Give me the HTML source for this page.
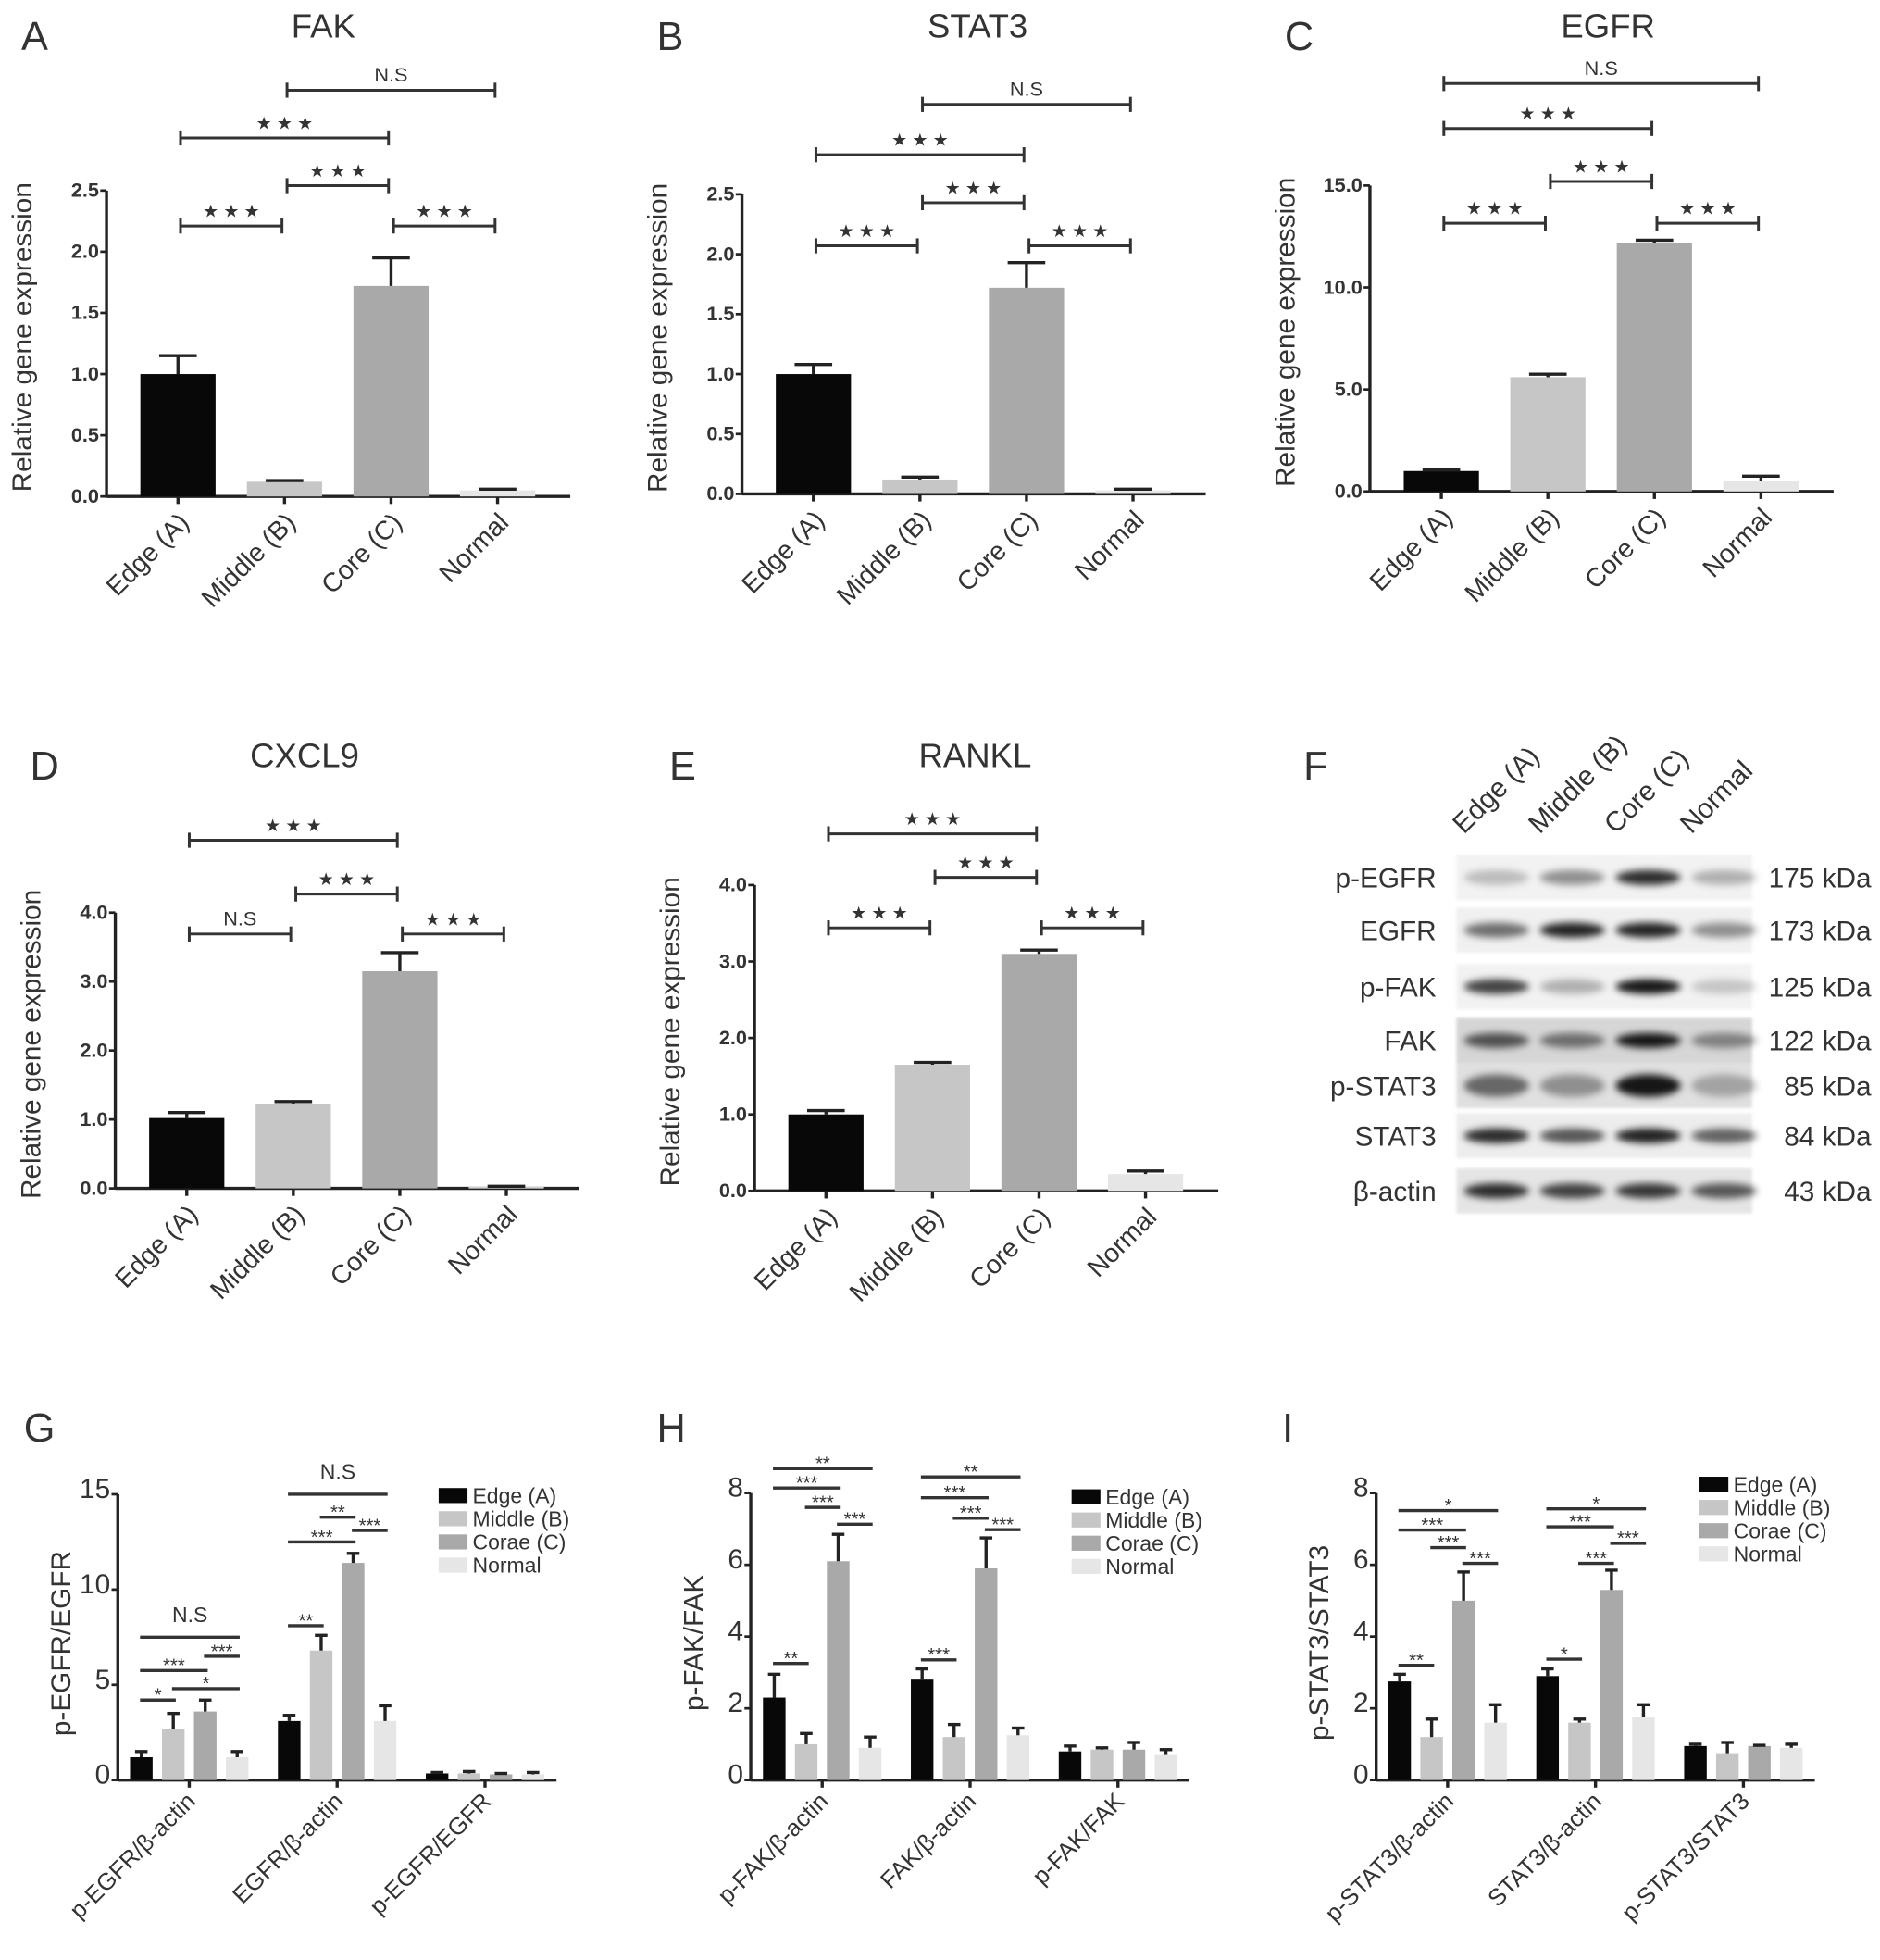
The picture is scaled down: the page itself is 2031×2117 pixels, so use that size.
<!DOCTYPE html>
<html><head><meta charset="utf-8"><style>
html,body{margin:0;padding:0;background:#fff}
svg{display:block}
text{font-family:"Liberation Sans",sans-serif;fill:#333}
</style></head><body>
<svg id="fig" xmlns="http://www.w3.org/2000/svg" width="2031" height="2117" viewBox="0 0 1500 1563.5">
<defs><filter id="blur" x="-50%" y="-100%" width="200%" height="300%"><feGaussianBlur stdDeviation="3"/></filter>
<filter id="blur2"><feGaussianBlur stdDeviation="1.2"/></filter></defs>
</svg>
<script>
const categories=["Edge (A)","Middle (B)","Core (C)","Normal"];
const groupLegend=["Edge (A)","Middle (B)","Corae (C)","Normal"];
const colors=["#080808","#c6c6c6","#a9a9a9","#e6e6e6"];

const fakValues=[1.0,0.12,1.72,0.05];
const fakErrors=[0.15,0.01,0.23,0.01];
const fakBrackets=[[1,3,3.32,"N.S"],[0,2,2.93,"* * *"],[1,2,2.54,"* * *"],[0,1,2.21,"* * *"],[2,3,2.21,"* * *"]];
const stat3Values=[1.0,0.12,1.72,0.03];
const stat3Errors=[0.08,0.02,0.21,0.01];
const stat3Brackets=[[1,3,3.25,"N.S"],[0,2,2.83,"* * *"],[1,2,2.43,"* * *"],[0,1,2.07,"* * *"],[2,3,2.07,"* * *"]];
const egfrValues=[1.0,5.6,12.2,0.5];
const egfrErrors=[0.05,0.15,0.12,0.25];
const egfrBrackets=[[0,3,20.0,"N.S"],[0,2,17.8,"* * *"],[1,2,15.2,"* * *"],[0,1,13.15,"* * *"],[2,3,13.15,"* * *"]];
const cxcl9Values=[1.02,1.23,3.15,0.02];
const cxcl9Errors=[0.08,0.03,0.27,0.01];
const cxcl9Brackets=[[0,2,5.05,"* * *"],[1,2,4.27,"* * *"],[0,1,3.69,"N.S"],[2,3,3.69,"* * *"]];
const ranklValues=[1.0,1.65,3.1,0.22];
const ranklErrors=[0.05,0.03,0.05,0.04];
const ranklBrackets=[[0,2,4.67,"* * *"],[1,2,4.1,"* * *"],[0,1,3.44,"* * *"],[2,3,3.44,"* * *"]];
const ticks25=[0,0.5,1.0,1.5,2.0,2.5];
const ticks15=[0,5,10,15];
const ticks4=[0,1,2,3,4];

const gGroups=["p-EGFR/β-actin","EGFR/β-actin","p-EGFR/EGFR"];
const gValues=[[1.2,2.7,3.6,1.2],[3.1,6.8,11.4,3.1],[0.35,0.35,0.3,0.3]];
const gErrors=[[0.3,0.8,0.6,0.3],[0.3,0.8,0.5,0.8],[0.05,0.1,0.05,0.1]];
const gBrackets=[[0,0,3,7.5,"N.S"],[0,2,3,6.5,"***"],[0,0,2,5.75,"***"],[0,1,3,4.8,"*"],[0,0,1,4.2,"*"],
 [1,0,3,15.0,"N.S"],[1,1,2,13.8,"**"],[1,2,3,13.1,"***"],[1,0,2,12.5,"***"],[1,0,1,8.1,"**"]];
const gTicks=[0,5,10,15];
const hGroups=["p-FAK/β-actin","FAK/β-actin","p-FAK/FAK"];
const hValues=[[2.3,1.0,6.1,0.9],[2.8,1.2,5.9,1.25],[0.8,0.85,0.85,0.7]];
const hErrors=[[0.65,0.3,0.75,0.3],[0.3,0.35,0.85,0.2],[0.15,0.05,0.2,0.15]];
const hBrackets=[[0,0,3,8.68,"**"],[0,0,2,8.14,"***"],[0,1,2,7.6,"***"],[0,2,3,7.13,"***"],[0,0,1,3.25,"**"],
 [1,0,3,8.45,"**"],[1,0,2,7.87,"***"],[1,1,2,7.3,"***"],[1,2,3,6.98,"***"],[1,0,1,3.35,"***"]];
const hTicks=[0,2,4,6,8];
const iGroups=["p-STAT3/β-actin","STAT3/β-actin","p-STAT3/STAT3"];
const iValues=[[2.75,1.2,5.0,1.6],[2.9,1.6,5.3,1.75],[0.95,0.75,0.95,0.9]];
const iErrors=[[0.2,0.5,0.8,0.5],[0.2,0.1,0.55,0.35],[0.05,0.3,0.02,0.1]];
const iBrackets=[[0,0,3,7.51,"*"],[0,0,2,6.97,"***"],[0,1,2,6.48,"***"],[0,2,3,6.04,"***"],[0,0,1,3.2,"**"],
 [1,0,3,7.56,"*"],[1,0,2,7.06,"***"],[1,2,3,6.6,"***"],[1,1,2,6.04,"***"],[1,0,1,3.37,"*"]];
const iTicks=[0,2,4,6,8];

const blotRows=["p-EGFR","EGFR","p-FAK","FAK","p-STAT3","STAT3","β-actin"];
const blotKda=["175 kDa","173 kDa","125 kDa","122 kDa","85 kDa","84 kDa","43 kDa"];
const blotIntensity=[[0.25,0.45,0.9,0.3],[0.6,0.95,0.95,0.45],[0.8,0.3,1,0.2],[0.7,0.55,1,0.45],[0.6,0.4,1,0.3],[0.9,0.7,0.95,0.65],[0.9,0.8,0.85,0.7]];
const blotBg=[0.05,0.06,0.05,0.16,0.12,0.07,0.1];

const svg=document.getElementById('fig');
const NS="http://www.w3.org/2000/svg";
function el(tag,attrs,parent,txt){const e=document.createElementNS(NS,tag);for(const k in attrs)e.setAttribute(k,attrs[k]);if(txt!==undefined)e.textContent=txt;(parent||svg).appendChild(e);return e;}
function grp(name,parent){const g=el('g',{},parent);return g;}

function single(cfg){
  const g=grp(cfg.name+'-panel');
  const yS=v=>cfg.y0-(v/cfg.yMax)*(cfg.y0-cfg.yTop);
  const xS=i=>cfg.x0+57+i*85;
  const L=el('text',{x:cfg.x0-68,y:cfg.letterY,'font-size':32},g,cfg.letter);
  
  const T=el('text',{x:cfg.titleX,y:cfg.letterY-10,'font-size':27,'text-anchor':'middle'},g,cfg.title);
  
  const ax=grp('axes',g);
  el('line',{x1:cfg.x0,y1:cfg.y0,x2:cfg.x0+370,y2:cfg.y0,stroke:'#222','stroke-width':2.5},ax);
  el('line',{x1:cfg.x0,y1:cfg.y0,x2:cfg.x0,y2:yS(cfg.ticks[cfg.ticks.length-1]),stroke:'#222','stroke-width':2.5},ax);
  cfg.ticks.forEach(t=>{const y=yS(t);el('line',{x1:cfg.x0-5,y1:y,x2:cfg.x0,y2:y,stroke:'#222','stroke-width':2},ax);
    const tl=el('text',{x:cfg.x0-6,y:y+5,'font-size':16,'text-anchor':'end','font-weight':'bold',fill:'#555'},ax,t.toFixed(1));
    });
  const yl=el('text',{x:0,y:0,'font-size':22,'text-anchor':'middle',transform:`translate(${cfg.x0-60},${(cfg.y0+yS(cfg.ticks[cfg.ticks.length-1]))/2-5}) rotate(-90)`},ax,'Relative gene expression');
  
  cfg.values.forEach((v,i)=>{const cx=xS(i);
    const r=el('rect',{x:cx-30,y:yS(v),width:60,height:cfg.y0-yS(v),fill:colors[i]},g);
    
    const e=yS(v+cfg.errors[i]);
    el('line',{x1:cx,y1:yS(v),x2:cx,y2:e,stroke:'#222','stroke-width':2.5},g);
    el('line',{x1:cx-15,y1:e,x2:cx+15,y2:e,stroke:'#222','stroke-width':2.5},g);
    el('line',{x1:cx,y1:cfg.y0,x2:cx,y2:cfg.y0+6,stroke:'#222','stroke-width':2.5},ax);
    const xl=el('text',{x:0,y:0,'font-size':21,'text-anchor':'end',transform:`translate(${cx+10},${cfg.y0+22}) rotate(-45)`},ax,categories[i]);
    });
  cfg.brackets.forEach(b=>{const bg=grp('significance-bracket',g);const y=yS(b[2]);const x1=xS(b[0])+2,x2=xS(b[1])-2;
    el('line',{x1:x1,y1:y,x2:x2,y2:y,stroke:'#333','stroke-width':2.2},bg);
    el('line',{x1:x1,y1:y-6,x2:x1,y2:y+6,stroke:'#333','stroke-width':2.2},bg);
    el('line',{x1:x2,y1:y-6,x2:x2,y2:y+6,stroke:'#333','stroke-width':2.2},bg);
    const ns=b[3]==='N.S';
    el('text',{x:(x1+x2)/2,y:y-7,'font-size':ns?16:14,'text-anchor':'middle',fill:'#444'},bg,ns?b[3]:'★ ★ ★');
  });
}
single({name:'fak',letter:'A',title:'FAK',titleX:258,letterY:40,x0:85,y0:396,yTop:152,yMax:2.5,ticks:ticks25,values:fakValues,errors:fakErrors,brackets:fakBrackets});
single({name:'stat3',letter:'B',title:'STAT3',titleX:780,letterY:40,x0:592,y0:394,yTop:155,yMax:2.5,ticks:ticks25,values:stat3Values,errors:stat3Errors,brackets:stat3Brackets});
single({name:'egfr',letter:'C',title:'EGFR',titleX:1283,letterY:40,x0:1093,y0:392,yTop:148,yMax:15,ticks:ticks15,values:egfrValues,errors:egfrErrors,brackets:egfrBrackets});
single({name:'cxcl9',letter:'D',title:'CXCL9',titleX:243,letterY:622,x0:92,y0:948,yTop:728,yMax:4,ticks:ticks4,values:cxcl9Values,errors:cxcl9Errors,brackets:cxcl9Brackets});
single({name:'rankl',letter:'E',title:'RANKL',titleX:778,letterY:622,x0:602,y0:950,yTop:706,yMax:4,ticks:ticks4,values:ranklValues,errors:ranklErrors,brackets:ranklBrackets});

function grouped(cfg){
  const g=grp(cfg.name+'-panel');
  const top=cfg.ticks[cfg.ticks.length-1];
  const yS=v=>cfg.y0-(v/top)*(cfg.y0-cfg.yTop);
  const xS=(gi,k)=>cfg.x0+57+gi*118+(k-1.5)*25.5;
  const L=el('text',{x:cfg.x0-75,y:1150,'font-size':32},g,cfg.letter);
  
  const ax=grp('axes',g);
  el('line',{x1:cfg.x0,y1:cfg.y0,x2:cfg.x0+350,y2:cfg.y0,stroke:'#222','stroke-width':2.5},ax);
  el('line',{x1:cfg.x0,y1:cfg.y0,x2:cfg.x0,y2:cfg.yTop,stroke:'#222','stroke-width':2.5},ax);
  cfg.ticks.forEach(t=>{const y=yS(t);el('line',{x1:cfg.x0-5,y1:y,x2:cfg.x0,y2:y,stroke:'#222','stroke-width':2},ax);
    const tl=el('text',{x:cfg.x0-6,y:y+3,'font-size':22,'text-anchor':'end',fill:'#444'},ax,String(t));
    });
  const yl=el('text',{x:0,y:0,'font-size':22,'text-anchor':'middle',transform:`translate(${cfg.x0-38},${(cfg.y0+cfg.yTop)/2+5}) rotate(-90)`},ax,cfg.ylabel);
  
  cfg.groups.forEach((gn,gi)=>{
    const tx=cfg.x0+57+gi*118;
    el('line',{x1:tx,y1:cfg.y0,x2:tx,y2:cfg.y0+6,stroke:'#222','stroke-width':2.5},ax);
    const xl=el('text',{x:0,y:0,'font-size':19,'text-anchor':'end',transform:`translate(${tx+6},${cfg.y0+18}) rotate(-45)`},ax,gn);
    
    cfg.values[gi].forEach((v,k)=>{const cx=xS(gi,k);
      const r=el('rect',{x:cx-9,y:yS(v),width:18,height:cfg.y0-yS(v),fill:colors[k]},g);
      
      const e=yS(v+cfg.errors[gi][k]);
      el('line',{x1:cx,y1:yS(v),x2:cx,y2:e,stroke:'#222','stroke-width':2.5},g);
      el('line',{x1:cx-5,y1:e,x2:cx+5,y2:e,stroke:'#222','stroke-width':2.5},g);});
  });
  cfg.brackets.forEach(b=>{const bg=grp('significance-bracket',g);const y=yS(b[3]);
    const x1=xS(b[0],b[1])-1,x2=xS(b[0],b[2])+2;
    el('line',{x1:x1,y1:y,x2:x2,y2:y,stroke:'#333','stroke-width':2.5},bg);
    const ns=b[4]==='N.S';
    el('text',{x:(x1+x2)/2,y:ns?y-12:y+1,'font-size':ns?17:15,'text-anchor':'middle',fill:'#444'},bg,b[4]);});
  const lg=grp('legend',g);
  groupLegend.forEach((n,k)=>{const y=cfg.legY+k*18.5;
    const r=el('rect',{x:cfg.legX,y:y-6,width:23,height:12,fill:colors[k]},lg);
    
    const t=el('text',{x:cfg.legX+27,y:y+6,'font-size':17},lg,n);
    });
}
grouped({name:'g',letter:'G',x0:94,y0:1420,yTop:1192,ticks:gTicks,ylabel:'p-EGFR/EGFR',groups:gGroups,values:gValues,errors:gErrors,brackets:gBrackets,legX:350,legY:1193});
grouped({name:'h',letter:'H',x0:599,y0:1420,yTop:1191,ticks:hTicks,ylabel:'p-FAK/FAK',groups:hGroups,values:hValues,errors:hErrors,brackets:hBrackets,legX:855,legY:1194});
grouped({name:'i',letter:'I',x0:1098,y0:1420,yTop:1191,ticks:iTicks,ylabel:'p-STAT3/STAT3',groups:iGroups,values:iValues,errors:iErrors,brackets:iBrackets,legX:1356,legY:1184});

(function(){
  const g=grp('western-blot-panel');
  const L=el('text',{x:1040,y:622,'font-size':32},g,'F');
  
  const laneX=i=>1194+i*60.5;
  const rowY=r=>[700,742,787,830,866,906,950][r];
  categories.forEach((c,i)=>{const t=el('text',{x:0,y:0,'font-size':22,transform:`translate(${laneX(i)-26},${666}) rotate(-45)`},g,c);
    });
  blotRows.forEach((rn,r)=>{const cy=rowY(r);
    const s=grp('blot-strip',g);
    el('rect',{x:1162,y:cy-18,width:236,height:36,fill:'#000','fill-opacity':blotBg[r],filter:'url(#blur2)'},s);
    blotIntensity[r].forEach((v,i)=>{
      el('ellipse',{cx:laneX(i),cy:cy,rx:26,ry:r===4?9:6,fill:'#000','fill-opacity':v*0.9,filter:'url(#blur)'},s);});
    const t=el('text',{x:1146,y:cy+8,'font-size':22,'text-anchor':'end'},g,rn);
    
    const k=el('text',{x:1493,y:cy+8,'font-size':22,'text-anchor':'end'},g,blotKda[r]);
    });
})();
</script>
</body></html>
